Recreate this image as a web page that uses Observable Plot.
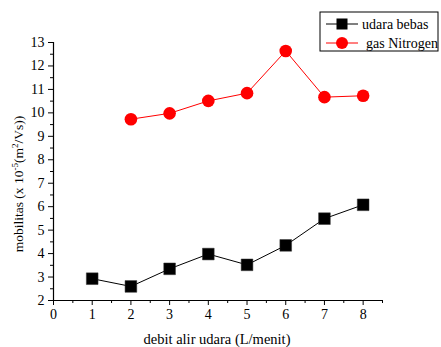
<!DOCTYPE html>
<html><head><meta charset="utf-8">
<script src="https://cdn.jsdelivr.net/npm/d3@7"></script>
<script src="https://cdn.jsdelivr.net/npm/@observablehq/plot@0.6"></script>
<style>body{margin:0;background:#fff}svg{display:block}</style>
</head><body><div id="chart"></div>
<script>
const debit = [1,2,3,4,5,6,7,8];
const udaraBebas = [2.93,2.6,3.35,3.98,3.52,4.35,5.49,6.08];
const debitN2 = [2,3,4,5,6,7,8];
const gasNitrogen = [9.73,9.98,10.51,10.84,12.64,10.67,10.73];
const xTicks = [0,1,2,3,4,5,6,7,8];
const yTicks = [2,3,4,5,6,7,8,9,10,11,12,13];
const xMinor = [0.5,1.5,2.5,3.5,4.5,5.5,6.5,7.5,8.5];
const yMinor = [2.5,3.5,4.5,5.5,6.5,7.5,8.5,9.5,10.5,11.5,12.5];

const black = debit.map((x,i)=>({x, y: udaraBebas[i]}));
const red = debitN2.map((x,i)=>({x, y: gasNitrogen[i]}));

const font = "'Liberation Serif', 'Times New Roman', serif";
const plot = Plot.plot({
  width: 441, height: 347,
  marginLeft: 53, marginTop: 42, marginBottom: 47, marginRight: 59,
  style: {fontFamily: font, fontSize: "14px", color: "#000", background: "#fff"},
  x: {domain: [0, 8.5]},
  y: {domain: [2, 13]},
  marks: [
    Plot.axisX({ticks: xTicks, tickSize: 5, tickPadding: 4, label: null, tickFormat: d=>d, fontSize: 14}),
    Plot.axisX({ticks: xMinor, tickSize: 3, text: null, label: null}),
    Plot.axisY({ticks: yTicks, tickSize: 5, tickPadding: 4, label: null, tickFormat: d=>d, fontSize: 14}),
    Plot.axisY({ticks: yMinor, tickSize: 3, text: null, label: null}),
    Plot.ruleX([0], {stroke: "#000", strokeWidth: 1.2}),
    Plot.ruleY([2], {stroke: "#000", strokeWidth: 1.2}),
    Plot.line(black, {x: "x", y: "y", stroke: "#000", strokeWidth: 1}),
    Plot.dot(black, {x: "x", y: "y", symbol: "square", r: 6.6, fill: "#000", stroke: "#333", strokeWidth: 0.5}),
    Plot.line(red, {x: "x", y: "y", stroke: "#ff0000", strokeWidth: 1}),
    Plot.dot(red, {x: "x", y: "y", symbol: "circle", r: 6.3, fill: "#ff0000", stroke: "none"})
  ]
});
document.getElementById("chart").appendChild(plot);

const svg = d3.select(plot);
// x axis title
svg.append("text").attr("x", 217).attr("y", 344).attr("text-anchor", "middle")
  .attr("font-family", font).attr("font-size", 14.5).attr("fill", "#000")
  .text("debit alir udara (L/menit)");
// y axis title with superscripts
const yt = svg.append("text").attr("transform", "translate(23,184) rotate(-90)")
  .attr("text-anchor", "middle").attr("font-family", font).attr("font-size", 13.5).attr("fill", "#000");
yt.append("tspan").text("mobilitas (x 10");
yt.append("tspan").attr("font-size", 9).attr("dy", -5).text("-5");
yt.append("tspan").attr("dy", 5).text("(m");
yt.append("tspan").attr("font-size", 9).attr("dy", -5).text("2");
yt.append("tspan").attr("dy", 5).text("/Vs))");

// legend
const lg = svg.append("g").attr("text-anchor", "start");
lg.append("rect").attr("x", 320).attr("y", 12).attr("width", 118).attr("height", 39)
  .attr("fill", "#fff").attr("stroke", "#000").attr("stroke-width", 1);
const items = [
  {label: "udara bebas", color: "#000", sym: "square", y: 24, tx: 362},
  {label: "gas Nitrogen", color: "#ff0000", sym: "circle", y: 43, tx: 366}
];
items.forEach(it => {
  lg.append("line").attr("x1", 326).attr("x2", 358).attr("y1", it.y).attr("y2", it.y)
    .attr("stroke", it.color).attr("stroke-width", 1);
  if (it.sym === "square") lg.append("rect").attr("x", 336.5).attr("y", it.y-5.5).attr("width", 11).attr("height", 11).attr("fill", it.color);
  else lg.append("circle").attr("cx", 342).attr("cy", it.y).attr("r", 6).attr("fill", it.color);
  lg.append("text").attr("x", it.tx).attr("y", it.y + 4.5).attr("text-anchor", "start").attr("font-family", font)
    .attr("font-size", 14).attr("fill", "#000").text(it.label);
});
</script></body></html>
